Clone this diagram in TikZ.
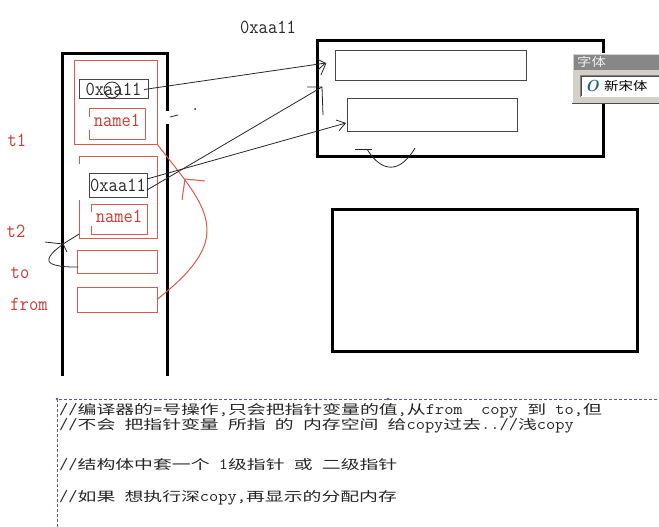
\documentclass[tikz,border=0pt]{standalone}
\usepackage{fontspec}
\usepackage{graphicx}
\usetikzlibrary{arrows.meta}
\newfontfamily\cjk{Noto Sans CJK SC}[FakeStretch=1.45]
\newfontfamily\uifont{Noto Sans CJK SC}[FakeStretch=1.2]
% half-width Latin inside the comment lines
\newcommand\lt[1]{\scalebox{1.12}[1]{\fontsize{16}{16}\ttfamily #1}}
% monospaced labels
\newcommand\mono[1]{\scalebox{0.9}[1]{\fontsize{20}{20}\ttfamily #1}}
\definecolor{inkred}{RGB}{200,60,50}
\definecolor{penred}{RGB}{218,90,78}
\definecolor{ink}{RGB}{40,40,40}
\definecolor{boxgray}{RGB}{70,70,70}
\definecolor{winface}{RGB}{212,208,200}
\definecolor{wintitle}{RGB}{135,135,135}
\definecolor{iconteal}{RGB}{30,100,130}
\definecolor{dashblue}{RGB}{85,95,140}
\begin{document}
\begin{tikzpicture}[x=1pt,y=-1pt,
  thickline/.style={line width=3pt,black,line join=miter},
  thickbox/.style={draw=black,line width=3pt,inner sep=0pt,outer sep=0pt},
  ptrbox/.style={draw=boxgray,line width=1pt,inner sep=0pt,outer sep=0pt,text=ink},
  redbox/.style={draw=penred,line width=1pt,inner sep=0pt,outer sep=0pt},
  redthin/.style={penred,line width=1pt},
  redpen/.style={penred,line width=1pt},
  pen/.style={ink,line width=0.8pt},
  redtxt/.style={text=inkred,inner sep=0pt},
  inktxt/.style={text=ink,inner sep=0pt},
  txtline/.style={anchor=west,inner sep=0pt,text=black!85,font=\cjk\fontsize{13}{13}\selectfont},
  barb/.style={-{Straight Barb[length=8pt,width=11pt]}}]
\useasboundingbox (0,0) rectangle (659,527);
\fill[white] (0,0) rectangle (659,527);
\clip (0,0) rectangle (659,527);

% ---- stack frame ----
\draw[thickline] (62,376) -- (62,54) -- (167,54) -- (167,111);
\draw[thickline] (167,124) -- (167,376);
\draw[pen] (170,117) -- (178,115);
\fill[ink] (195,109) circle (1pt);

% struct t1
\node[redbox,minimum width=83pt,minimum height=83pt] (t1box) at (115.5,102.5) {};
\node[ptrbox,minimum width=69pt,minimum height=19pt] (p1) at (113.5,89.5) {\mono{0xaa11}};
\node[draw=ink,circle,line width=0.8pt,minimum size=16pt,inner sep=0pt] (ring) at (112,90) {};
\draw[redthin] (89,117) -- (89,108) -- (145,108) -- (145,139) -- (89,139) -- (89,130);
\node[redtxt] (n1) at (117,120) {\mono{name1}};

% struct t2
\draw[redthin] (79,164) -- (79,156) -- (157,156) -- (157,238) -- (79,238) -- (79,200);
\node[ptrbox,minimum width=58pt,minimum height=24pt] (p2) at (118,185) {\mono{0xaa11}};
\draw[redthin] (91,212) -- (91,204) -- (147,204) -- (147,234) -- (91,234) -- (91,226);
\node[redtxt] (n2) at (119,216) {\mono{name1}};

% to / from
\node[redbox,minimum width=80pt,minimum height=23pt] (tobox) at (117,261.5) {};
\node[redbox,minimum width=80pt,minimum height=25pt] (frombox) at (117,299.5) {};

% side labels
\node[redtxt] (lt1) at (17,140) {\mono{t1}};
\node[redtxt] (lt2) at (16,231) {\mono{t2}};
\node[redtxt] (lto) at (20,273) {\mono{to}};
\node[redtxt] (lfrom) at (29,304) {\mono{from}};

% red copy stroke from -> t1
\draw[redpen] (t1box.south east) .. controls (185,180) and (208,205) .. (207,232)
  .. controls (206,260) and (175,285) .. (frombox.east);
\draw[redpen] (182,200) -- (185,179) -- (205,181);

% black loop t2 -> to
\coordinate (loopend) at (78,267);
\draw[pen] (45,242) -- (63,244) -- (67,252);
\draw[pen] (79,234) .. controls (70,240) and (64,243) .. (62,245)
  .. controls (52,252) and (42,262) .. (55,265) .. controls (62,267) and (70,267) .. (loopend);

% pointers into the heap block
\node[inktxt] (addr) at (268,27) {\mono{0xaa11}};
\node[thickbox,minimum width=286pt,minimum height=115pt] (heap) at (460,98.5) {};
\node[ptrbox,minimum width=191pt,minimum height=30pt] (f1) at (430.5,66) {};
\node[ptrbox,minimum width=170pt,minimum height=32pt] (f2) at (432,115) {};

\coordinate (tipA) at (326,63);
\coordinate (tipB) at (322,87);
\coordinate (tipC) at (346,123);
\draw[pen,barb] ([xshift=-4pt]p1.east) -- (tipA);
\draw[pen] (tipA) -- (321,75);
\draw[pen] ([yshift=-5pt]p2.east) -- (tipB);
\draw[pen] (307,87) -- (tipB) -- (323,115);
\draw[pen,barb] ([yshift=6pt]p2.east) -- (tipC);

\draw[pen] (355,149) -- (372,149);
\draw[pen] (367,149) .. controls (377,166) and (396,180) .. (415,148);

% second heap block
\node[thickbox,minimum width=305pt,minimum height=142pt] (heap2) at (484.5,280) {};

% font picker window
\fill[winface] (572,53) rectangle (665,104);
\draw[white,line width=1pt] (572.5,104) -- (572.5,53.5) -- (665,53.5);
\fill[wintitle] (574,55) rectangle (665,70);
\node[anchor=west,inner sep=0pt,text=white!88!gray,font=\uifont\fontsize{12}{12}\selectfont] (wtitle) at (577,62) {字体};
\fill[white] (580,75) rectangle (665,97);
\draw[gray,line width=1pt] (580.5,97) -- (580.5,75.5) -- (665,75.5);
\draw[black!70,line width=1pt] (581.5,96) -- (581.5,76.5) -- (665,76.5);
\draw[gray!60!black,line width=1pt] (572,103.5) -- (665,103.5);
\node[inner sep=0pt,text=iconteal,font=\fontsize{16}{16}\selectfont\bfseries\itshape] (icon) at (592,86) {O};
\node[anchor=west,inner sep=0pt,text=black,font=\uifont\fontsize{12}{12}\selectfont] (fname) at (604,86) {新宋体};

% comment block
\draw[dashblue,line width=0.8pt,dash pattern=on 3pt off 2pt] (57,527) -- (57,399) -- (665,399);
\fill[dashblue] (57,399) circle (1.3pt);
\fill[dashblue] (388,399) circle (1.3pt);
\node[txtline] (l1) at (59,411) {\lt{//}编译器的\lt{=}号操作\lt{,}只会把指针变量的值\lt{,}从\lt{from\ \ copy\ }到\lt{\ to,}但};
\node[txtline] (l2) at (59,426) {\lt{//}不会\lt{\ }把指针变量\lt{\ }所指\lt{\ }的\lt{\ }内存空间\lt{\ }给\lt{copy}过去\lt{..//}浅\lt{copy}};
\node[txtline] (l3) at (59,465) {\lt{//}结构体中套一个\lt{\ 1}级指针\lt{\ }或\lt{\ }二级指针};
\node[txtline] (l4) at (59,498) {\lt{//}如果\lt{\ }想执行深\lt{copy,}再显示的分配内存};
\end{tikzpicture}
\end{document}
